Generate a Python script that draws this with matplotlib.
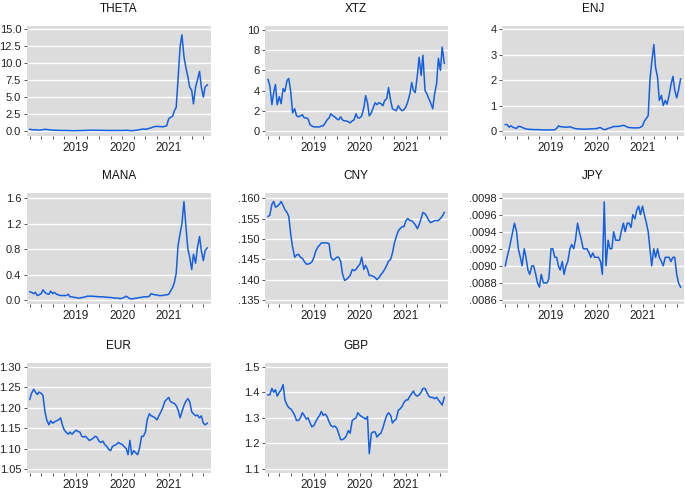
import pandas as pd
import matplotlib
matplotlib.use('Agg')
import matplotlib.pyplot as plt
import matplotlib.dates as mdates
from matplotlib.ticker import FuncFormatter

plt.rcParams['font.family'] = ['Liberation Sans', 'DejaVu Sans']

# semi-monthly readings (1st and 15th), Jan 2018 - Nov 2021
dates = pd.date_range('2018-01-01', '2021-11-01', freq='SMS')

theta = [0.25, 0.2, 0.15, 0.2, 0.15, 0.12, 0.15, 0.2, 0.25, 0.22, 0.18, 0.15,
         0.12, 0.12, 0.1, 0.09, 0.08, 0.08, 0.08, 0.08, 0.07, 0.06, 0.05, 0.05,
         0.05, 0.06, 0.07, 0.07, 0.08, 0.09, 0.1, 0.1, 0.12, 0.12, 0.1, 0.1,
         0.1, 0.1, 0.09, 0.09, 0.08, 0.08, 0.08, 0.08, 0.08, 0.08, 0.08, 0.08,
         0.08, 0.08, 0.1, 0.09, 0.06, 0.05, 0.07, 0.1, 0.15, 0.2, 0.25, 0.3,
         0.25, 0.3, 0.4, 0.45, 0.6, 0.65, 0.7, 0.65, 0.65, 0.6, 0.7, 0.75,
         1.8, 2.0, 2.2, 3.0, 3.5, 7.5, 12.5, 14.2, 11.0, 9.5, 8.0, 6.5,
         6.0, 4.0, 6.5, 7.5, 8.8, 6.5, 5.0, 6.5, 6.8]

xtz = [5.1, 4.5, 2.6, 3.8, 4.6, 2.6, 3.4, 2.7, 4.2, 3.9, 5.0, 5.2,
       3.8, 1.8, 2.2, 1.5, 1.4, 1.5, 1.6, 1.3, 1.3, 1.2, 0.6, 0.5,
       0.4, 0.4, 0.4, 0.4, 0.5, 0.5, 0.8, 1.1, 1.3, 1.7, 1.5, 1.4,
       1.2, 1.1, 1.4, 1.1, 1.0, 1.0, 0.9, 0.8, 1.0, 1.1, 1.7, 1.3,
       1.3, 1.5, 2.3, 3.5, 2.8, 1.5, 1.8, 2.3, 2.8, 2.6, 2.8, 2.7,
       2.5, 3.0, 3.2, 4.3, 3.0, 2.2, 2.1, 2.0, 2.5, 2.2, 2.0, 2.1,
       2.4, 2.9, 3.7, 4.8, 4.0, 3.8, 5.5, 7.3, 5.5, 7.5, 4.0, 3.7,
       3.2, 2.8, 2.2, 3.6, 4.7, 7.2, 6.0, 8.3, 6.7]

enj = [0.25, 0.25, 0.15, 0.2, 0.15, 0.12, 0.1, 0.18, 0.17, 0.14, 0.1, 0.08,
       0.07, 0.06, 0.06, 0.05, 0.05, 0.05, 0.05, 0.04, 0.04, 0.04, 0.04, 0.04,
       0.04, 0.04, 0.05, 0.1, 0.2, 0.17, 0.16, 0.15, 0.15, 0.15, 0.16, 0.14,
       0.11, 0.09, 0.08, 0.08, 0.07, 0.07, 0.07, 0.07, 0.08, 0.08, 0.08, 0.09,
       0.09, 0.12, 0.13, 0.08, 0.05, 0.06, 0.1, 0.12, 0.14, 0.18, 0.17, 0.18,
       0.18, 0.2, 0.22, 0.2, 0.15, 0.13, 0.13, 0.12, 0.12, 0.12, 0.12, 0.14,
       0.2, 0.38, 0.5, 0.6, 2.0, 2.7, 3.4, 2.5, 2.1, 1.2, 1.4, 1.0,
       1.2, 1.05, 1.4, 1.8, 2.15, 1.6, 1.3, 1.6, 2.05]

mana = [0.13, 0.12, 0.1, 0.12, 0.07, 0.08, 0.1, 0.16, 0.12, 0.1, 0.09, 0.14,
        0.1, 0.12, 0.09, 0.08, 0.07, 0.07, 0.07, 0.07, 0.09, 0.05, 0.05, 0.04,
        0.04, 0.03, 0.03, 0.04, 0.04, 0.05, 0.06, 0.06, 0.06, 0.06, 0.055, 0.055,
        0.05, 0.05, 0.05, 0.045, 0.045, 0.04, 0.04, 0.035, 0.03, 0.03, 0.03, 0.02,
        0.03, 0.04, 0.06, 0.04, 0.02, 0.02, 0.02, 0.03, 0.03, 0.04, 0.04, 0.05,
        0.05, 0.05, 0.06, 0.1, 0.09, 0.08, 0.08, 0.07, 0.07, 0.07, 0.08, 0.08,
        0.09, 0.14, 0.2, 0.28, 0.42, 0.85, 1.05, 1.2, 1.55, 1.2, 0.8, 0.68,
        0.48, 0.72, 0.58, 0.82, 1.0, 0.78, 0.62, 0.78, 0.82]

cny = [.1555, .1558, .1585, .1592, .1578, .158, .1585, .1592, .1582, .1572, .1565, .1555,
       .151, .148, .1455, .146, .1462, .1455, .1452, .1445, .1438, .1438, .144, .1443,
       .1455, .147, .148, .1485, .149, .149, .149, .149, .1488, .1455, .1448, .145,
       .1455, .1455, .1445, .1415, .1398, .140, .1405, .141, .1425, .1422, .1425, .1432,
       .1438, .1455, .1425, .1435, .1425, .141, .141, .1408, .1405, .140, .1405, .1412,
       .1418, .1425, .1435, .1445, .145, .1465, .149, .1505, .152, .1525, .153, .153,
       .1545, .155, .1545, .1545, .154, .1535, .1525, .1535, .155, .1565, .1562, .1555,
       .1545, .154, .1542, .1545, .1545, .1545, .155, .1555, .1565]

jpy = [.0090, .0091, .0092, .0093, .0094, .0095, .0094, .0092, .0091, .0090, .0092, .0091,
       .00895, .0089, .0090, .0090, .0089, .0088, .00875, .0089, .0088, .0088, .0088, .00885,
       .0092, .0092, .0091, .0091, .0090, .00895, .00905, .0089, .0090, .00905, .0092, .00925,
       .0092, .0093, .0095, .0094, .0093, .0092, .0092, .0092, .00915, .0091, .00915, .0091,
       .0091, .0091, .00905, .0089, .00975, .0090, .0093, .0092, .0092, .0094, .0093, .0093,
       .0093, .0094, .0095, .0094, .0095, .0095, .00945, .0096, .00955, .00965, .0097, .0096,
       .0097, .0096, .0095, .0094, .0092, .0090, .0092, .0091, .0092, .0091, .00905, .0090,
       .0091, .0091, .0091, .00905, .0091, .0091, .0089, .0088, .00875]

eur = [1.22, 1.235, 1.245, 1.238, 1.232, 1.238, 1.235, 1.23, 1.19, 1.17, 1.158, 1.168,
       1.162, 1.165, 1.168, 1.17, 1.175, 1.158, 1.145, 1.14, 1.135, 1.14, 1.135, 1.14,
       1.145, 1.142, 1.14, 1.13, 1.128, 1.13, 1.125, 1.12, 1.122, 1.125, 1.13, 1.128,
       1.118, 1.115, 1.118, 1.11, 1.105, 1.098, 1.095, 1.105, 1.108, 1.11, 1.115, 1.112,
       1.11, 1.105, 1.10, 1.085, 1.12, 1.085, 1.095, 1.09, 1.085, 1.10, 1.13, 1.13,
       1.14, 1.17, 1.185, 1.18, 1.178, 1.175, 1.17, 1.18, 1.19, 1.20, 1.215, 1.22,
       1.225, 1.215, 1.212, 1.21, 1.205, 1.195, 1.175, 1.19, 1.205, 1.215, 1.222, 1.215,
       1.19, 1.185, 1.18, 1.182, 1.175, 1.18, 1.162, 1.158, 1.162]

gbp = [1.39, 1.39, 1.415, 1.40, 1.41, 1.385, 1.40, 1.41, 1.43, 1.37, 1.35, 1.34,
       1.335, 1.325, 1.31, 1.29, 1.29, 1.30, 1.32, 1.31, 1.295, 1.30, 1.28, 1.265,
       1.27, 1.285, 1.30, 1.31, 1.325, 1.31, 1.315, 1.305, 1.285, 1.27, 1.265, 1.268,
       1.26, 1.24, 1.215, 1.215, 1.22, 1.23, 1.25, 1.24, 1.29, 1.295, 1.30, 1.32,
       1.31, 1.305, 1.30, 1.295, 1.305, 1.16, 1.24, 1.245, 1.245, 1.225, 1.235, 1.24,
       1.26, 1.285, 1.31, 1.32, 1.31, 1.28, 1.29, 1.295, 1.33, 1.335, 1.345, 1.36,
       1.37, 1.37, 1.385, 1.395, 1.405, 1.39, 1.385, 1.39, 1.40, 1.415, 1.415, 1.40,
       1.385, 1.38, 1.38, 1.375, 1.38, 1.37, 1.36, 1.35, 1.38]

# name, values, y ticks, y limits, tick format
panels = [
    ('THETA', theta, [0, 2.5, 5, 7.5, 10, 12.5, 15], (-0.74, 15.5), '{:.1f}'),
    ('XTZ', xtz, [0, 2, 4, 6, 8, 10], (-0.5, 10.4), '{:.0f}'),
    ('ENJ', enj, [0, 1, 2, 3, 4], (-0.2, 4.13), '{:.0f}'),
    ('MANA', mana, [0, 0.4, 0.8, 1.2, 1.6], (-0.063, 1.68), '{:.1f}'),
    ('CNY', cny, [.135, .140, .145, .150, .155, .160], (.134, .1612), 'nolead3'),
    ('JPY', jpy, [.0086, .0088, .0090, .0092, .0094, .0096, .0098], (.008553, .00985), 'nolead4'),
    ('EUR', eur, [1.05, 1.10, 1.15, 1.20, 1.25, 1.30], (1.041, 1.3098), '{:.2f}'),
    ('GBP', gbp, [1.1, 1.2, 1.3, 1.4, 1.5], (1.0857, 1.5156), '{:.1f}'),
]

W, H = 685, 490
col_x = [(26.7, 210.7), (265, 447.7), (502.3, 684)]
row_y = [(26, 136), (193.3, 304), (362.7, 472.7)]

fig = plt.figure(figsize=(W / 100, H / 100), dpi=100)


def make_fmt(f):
    if f == 'nolead3':
        return FuncFormatter(lambda v, p: '{:.3f}'.format(v).lstrip('0'))
    if f == 'nolead4':
        return FuncFormatter(lambda v, p: '{:.4f}'.format(v).lstrip('0'))
    return FuncFormatter(lambda v, p: f.format(v))


for k, (name, vals, yt, ylim, fmt) in enumerate(panels):
    r, c = divmod(k, 3)
    x0, x1 = col_x[c]
    y0, y1 = row_y[r]
    ax = fig.add_axes([x0 / W, 1 - y1 / H, (x1 - x0) / W, (y1 - y0) / H])
    ax.set_facecolor('#dcdcdc')
    for s in ax.spines.values():
        s.set_visible(False)
    ax.plot(dates, vals, color='#1560e0', lw=1.1)
    ax.set_ylim(*ylim)
    ax.set_yticks(yt)
    ax.yaxis.set_major_formatter(make_fmt(fmt))
    ax.grid(axis='y', color='white', lw=1.0)
    ax.set_axisbelow(True)
    ax.set_xlim(pd.Timestamp('2017-12-08'), pd.Timestamp('2021-11-28'))
    ax.xaxis.set_major_locator(mdates.YearLocator(base=1, month=1, day=1))
    ax.xaxis.set_major_formatter(FuncFormatter(
        lambda v, p: '' if mdates.num2date(v).year == 2018 else str(mdates.num2date(v).year)))
    ax.xaxis.set_minor_locator(mdates.MonthLocator(bymonth=[4, 7, 10]))
    ax.tick_params(axis='both', which='both', length=2.5, width=0.7, color='#555555',
                   labelcolor='#222222', pad=2)
    ax.tick_params(axis='x', labelsize=8.5)
    ax.tick_params(axis='y', labelsize=8, pad=1.5)
    ax.set_title(name, fontsize=8.5, color='#111111', pad=10)

fig.savefig('out.png', dpi=100)
